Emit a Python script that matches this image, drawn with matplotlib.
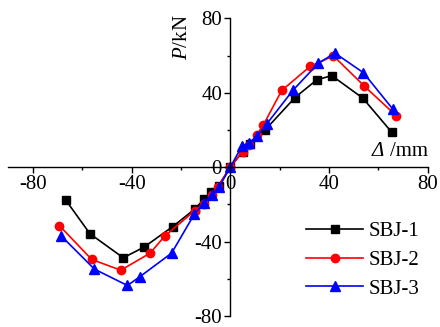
import matplotlib
matplotlib.use('Agg')
import matplotlib.pyplot as plt
from matplotlib.ticker import MultipleLocator

plt.rcParams['font.family'] = ['Liberation Serif', 'DejaVu Serif']
plt.rcParams['mathtext.fontset'] = 'custom'
plt.rcParams['mathtext.rm'] = 'Liberation Serif'
plt.rcParams['mathtext.it'] = 'Liberation Serif:italic'

# displacement (mm) and load (kN) for each specimen
x1 = [-66.6, -56.9, -43.4, -35.0, -23.3, -14.3, -10.7, -7.8, -4.7, 0, 5.0, 8.0, 14.1, 26.2, 35.0, 41.1, 53.7, 65.4]
y1 = [-17.9, -35.8, -48.7, -43.0, -31.9, -22.4, -17.2, -13.4, -9.9, 0, 8.4, 12.5, 20.0, 37.4, 46.9, 49.2, 37.1, 18.8]

x2 = [-69.3, -56.2, -44.4, -32.5, -26.5, -14.3, -10.7, -7.5, -5.1, 0, 5.0, 7.7, 10.7, 13.4, 20.8, 32.3, 41.8, 54.2, 67.2]
y2 = [-31.4, -49.6, -55.4, -46.2, -36.9, -23.3, -19.7, -15.2, -10.4, 0, 8.4, 12.0, 17.4, 22.7, 41.2, 54.1, 59.8, 43.7, 27.7]

x3 = [-68.6, -55.1, -41.7, -36.6, -23.8, -14.6, -10.7, -7.5, -4.6, 0, 4.6, 7.7, 10.7, 14.8, 25.3, 35.7, 42.4, 53.9, 65.8]
y3 = [-36.9, -54.8, -63.6, -58.8, -46.2, -25.3, -19.4, -14.9, -10.7, 0, 11.1, 13.2, 16.5, 23.3, 41.2, 55.9, 61.3, 50.8, 31.3]

labels = ['SBJ-1', 'SBJ-2', 'SBJ-3']
ticks = [-80, -40, 0, 40, 80]

fig = plt.figure(figsize=(4.4, 3.27), dpi=100)
ax = fig.add_axes([8.3 / 440, 11 / 327, 419.4 / 440, 297.7 / 327])

ax.plot(x1, y1, color='black', marker='s', ms=5.5, lw=1.2, label=labels[0])
ax.plot(x2, y2, color='red', marker='o', ms=6, lw=1.2, label=labels[1])
ax.plot(x3, y3, color='blue', marker='^', ms=6.5, lw=1.2, label=labels[2])

ax.set_xlim(-90, 80)
ax.set_ylim(-80, 80)
ax.spines['left'].set_position(('data', 0))
ax.spines['bottom'].set_position(('data', 0))
ax.spines['top'].set_visible(False)
ax.spines['right'].set_visible(False)
for s in ('left', 'bottom'):
    ax.spines[s].set_linewidth(1.0)

ax.xaxis.set_minor_locator(MultipleLocator(20))
ax.yaxis.set_minor_locator(MultipleLocator(20))
ax.tick_params(which='major', direction='out', length=4, width=1, labelsize=15, pad=2)
ax.tick_params(which='minor', direction='out', length=2, width=1)
ax.set_xticks(ticks)
ax.set_yticks(ticks)
ax.set_xticklabels([str(t) for t in ticks])
ax.set_yticklabels([str(t) for t in ticks])

ax.text(-19.2, 70, r'$\mathit{P}$/kN', rotation=90, ha='center', va='center', fontsize=15)
ax.text(59.9, 8.3, 'Δ', style='italic', ha='center', va='center', fontsize=15)
ax.text(64.8, 8.3, '/mm', ha='left', va='center', fontsize=15)

ax.legend(loc='center left', bbox_to_anchor=(0.686, 0.188), frameon=False, fontsize=15,
          handlelength=2.7, handletextpad=0.3, labelspacing=0.45, borderpad=0)

fig.savefig('out.png', dpi=100)
